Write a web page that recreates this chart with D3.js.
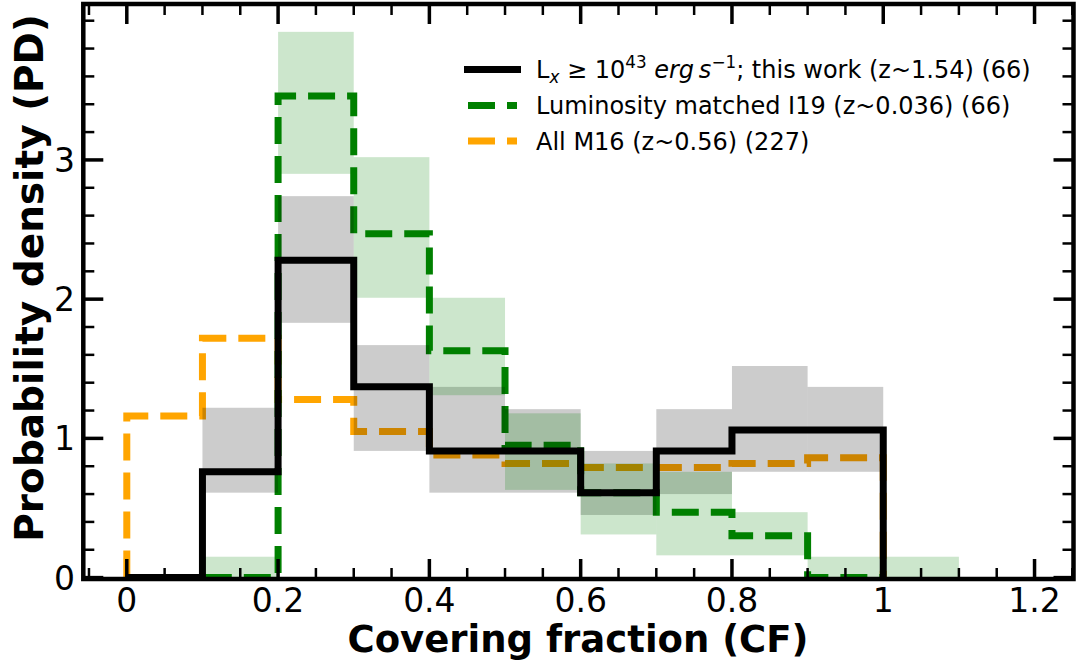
<!DOCTYPE html>
<html>
<head>
<meta charset="utf-8">
<script src="https://cdn.jsdelivr.net/npm/d3@7"></script>
<style>
html,body{margin:0;padding:0;background:#fff;}
svg{display:block;font-family:"DejaVu Sans",sans-serif;}
</style>
</head>
<body>
<svg id="chart" width="1078" height="666"></svg>
<script>
// ---------- data ----------
const binEdges = [0, 0.1, 0.2, 0.3, 0.4, 0.5, 0.6, 0.7, 0.8, 0.9, 1.0, 1.1];
// histogram densities for bins 0–1.0
const thisWork = [0, 0.76, 2.28, 1.37, 0.91, 0.91, 0.61, 0.91, 1.06, 1.06];
const i19Matched = [0, 0, 3.46, 2.47, 1.63, 0.95, 0.61, 0.47, 0.30, 0];
const m16All = [1.16, 1.72, 1.28, 1.05, 0.88, 0.82, 0.79, 0.79, 0.82, 0.86];
// uncertainty bands for bins 0–1.1 (null = none)
const thisWorkLow  = [null, 0.61, 1.83, 0.91, 0.61, 0.61, 0.45, 0.60, 0.76, 0.76, null];
const thisWorkHigh = [null, 1.22, 2.74, 1.67, 1.37, 1.21, 0.91, 1.21, 1.52, 1.37, null];
const i19Low  = [null, 0, 2.90, 2.01, 1.31, 0.63, 0.31, 0.16, 0.16, 0, 0];
const i19High = [null, 0.15, 3.92, 3.02, 2.01, 1.18, 0.82, 0.76, 0.47, 0.15, 0.15];
// ticks
const xTicks = [0, 0.2, 0.4, 0.6, 0.8, 1.0, 1.2];
const xTickLabels = ["0", "0.2", "0.4", "0.6", "0.8", "1", "1.2"];
const yTicks = [0, 1, 2, 3];
const yTickLabels = ["0", "1", "2", "3"];
const legendLabels = ["this work (z~1.54) (66)", "Luminosity matched I19 (z~0.036) (66)", "All M16 (z~0.56) (227)"];

// ---------- layout ----------
const L = 83.3, R = 1073.5, T = 4, B = 579;
const x = d3.scaleLinear().domain([-0.0575, 1.2515]).range([L, R]);
const y = d3.scaleLinear().domain([-0.01, 4.12]).range([B, T]);

const svg = d3.select("#chart");
const GREEN = "#008000", ORANGE = "#ffa500";

function stepPath(vals) {
  const p = d3.path();
  p.moveTo(x(binEdges[0]), y(0));
  vals.forEach((v, i) => {
    p.lineTo(x(binEdges[i]), y(v));
    p.lineTo(x(binEdges[i + 1]), y(v));
  });
  p.lineTo(x(binEdges[vals.length]), y(0));
  return p.toString();
}

svg.append("defs").append("clipPath").attr("id", "clip")
  .append("rect").attr("x", L).attr("y", T).attr("width", R - L).attr("height", B - T);
const plot = svg.append("g").attr("clip-path", "url(#clip)");

// lines under bands
plot.append("path").attr("d", stepPath(m16All)).attr("fill", "none")
  .attr("stroke", ORANGE).attr("stroke-width", 7).attr("stroke-dasharray", "27,12")
  .attr("stroke-linejoin", "miter");
plot.append("path").attr("d", stepPath(i19Matched)).attr("fill", "none")
  .attr("stroke", GREEN).attr("stroke-width", 7).attr("stroke-dasharray", "27,12")
  .attr("stroke-linejoin", "miter");

// bands
function bands(lo, hi, color) {
  const idx = d3.range(lo.length).filter(i => lo[i] !== null);
  plot.append("g").selectAll("rect").data(idx).join("rect")
    .attr("x", i => x(binEdges[i]))
    .attr("width", i => x(binEdges[i + 1]) - x(binEdges[i]))
    .attr("y", i => y(hi[i]))
    .attr("height", i => y(lo[i]) - y(hi[i]))
    .attr("fill", color).attr("fill-opacity", 0.2);
}
bands(thisWorkLow, thisWorkHigh, "#000");
bands(i19Low, i19High, GREEN);

// black step on top
plot.append("path").attr("d", stepPath(thisWork)).attr("fill", "none")
  .attr("stroke", "#000").attr("stroke-width", 7).attr("stroke-linejoin", "miter");

// ---------- axes / ticks ----------
const tickG = svg.append("g");
const xMinor = d3.range(-0.05, 1.2501, 0.05).map(v => +v.toFixed(2)).filter(v => !xTicks.some(t => Math.abs(t - v) < 1e-6));
const yMinor = d3.range(0, 4.1, 0.2).map(v => +v.toFixed(2)).filter(v => !yTicks.some(t => Math.abs(t - v) < 1e-6));

function vTicks(vals, len, w) {
  vals.forEach(v => {
    tickG.append("line").attr("x1", x(v)).attr("x2", x(v)).attr("y1", B).attr("y2", B - len)
      .attr("stroke", "#000").attr("stroke-width", w);
    tickG.append("line").attr("x1", x(v)).attr("x2", x(v)).attr("y1", T).attr("y2", T + len)
      .attr("stroke", "#000").attr("stroke-width", w);
  });
}
function hTicks(vals, len, w) {
  vals.forEach(v => {
    tickG.append("line").attr("y1", y(v)).attr("y2", y(v)).attr("x1", L).attr("x2", L + len)
      .attr("stroke", "#000").attr("stroke-width", w);
    tickG.append("line").attr("y1", y(v)).attr("y2", y(v)).attr("x1", R).attr("x2", R - len)
      .attr("stroke", "#000").attr("stroke-width", w);
  });
}
vTicks(xTicks, 20, 3.5);
vTicks(xMinor, 11, 2.5);
hTicks(yTicks, 20, 3.5);
hTicks(yMinor, 11, 2.5);

svg.append("rect").attr("x", L).attr("y", T).attr("width", R - L).attr("height", B - T)
  .attr("fill", "none").attr("stroke", "#000").attr("stroke-width", 4.5);

// tick labels
svg.append("g").selectAll("text").data(xTicks).join("text")
  .attr("x", d => x(d)).attr("y", 612).attr("text-anchor", "middle")
  .attr("font-size", 33).text((d, i) => xTickLabels[i]);
svg.append("g").selectAll("text").data(yTicks).join("text")
  .attr("x", 75).attr("y", d => y(d) + 12).attr("text-anchor", "end")
  .attr("font-size", 33).text((d, i) => yTickLabels[i]);

// axis labels
svg.append("text").attr("x", 578).attr("y", 652).attr("text-anchor", "middle")
  .attr("font-size", 37).attr("font-weight", "bold").text("Covering fraction (CF)");
svg.append("text").attr("transform", "translate(43,278) rotate(-90)").attr("text-anchor", "middle")
  .attr("font-size", 39).attr("font-weight", "bold").text("Probability density (PD)");

// ---------- legend ----------
const lg = svg.append("g");
const rows = [69.5, 105.5, 141];
lg.append("line").attr("x1", 464).attr("x2", 521).attr("y1", rows[0]).attr("y2", rows[0])
  .attr("stroke", "#000").attr("stroke-width", 7);
lg.append("line").attr("x1", 468).attr("x2", 517).attr("y1", rows[1]).attr("y2", rows[1])
  .attr("stroke", GREEN).attr("stroke-width", 7).attr("stroke-dasharray", "27,12");
lg.append("line").attr("x1", 468).attr("x2", 517).attr("y1", rows[2]).attr("y2", rows[2])
  .attr("stroke", ORANGE).attr("stroke-width", 7).attr("stroke-dasharray", "27,12");

const fs = 24;
const t0 = lg.append("text").attr("x", 536).attr("y", rows[0] + 8.5).attr("font-size", fs);
t0.append("tspan").text("L");
t0.append("tspan").attr("font-style", "italic").attr("font-size", fs * 0.7).attr("dy", 5).text("x");
t0.append("tspan").attr("dy", -5).text(" \u2265 10");
t0.append("tspan").attr("font-size", fs * 0.7).attr("dy", -10).text("43");
t0.append("tspan").attr("dy", 10).attr("font-style", "italic").text(" erg\u2009s");
t0.append("tspan").attr("font-size", fs * 0.7).attr("dy", -10).text("\u22121");
t0.append("tspan").attr("dy", 10).text("; " + legendLabels[0]);

lg.append("text").attr("x", 536).attr("y", rows[1] + 8.5).attr("font-size", fs).text(legendLabels[1]);
lg.append("text").attr("x", 536).attr("y", rows[2] + 8.5).attr("font-size", fs).text(legendLabels[2]);
</script>
</body>
</html>
